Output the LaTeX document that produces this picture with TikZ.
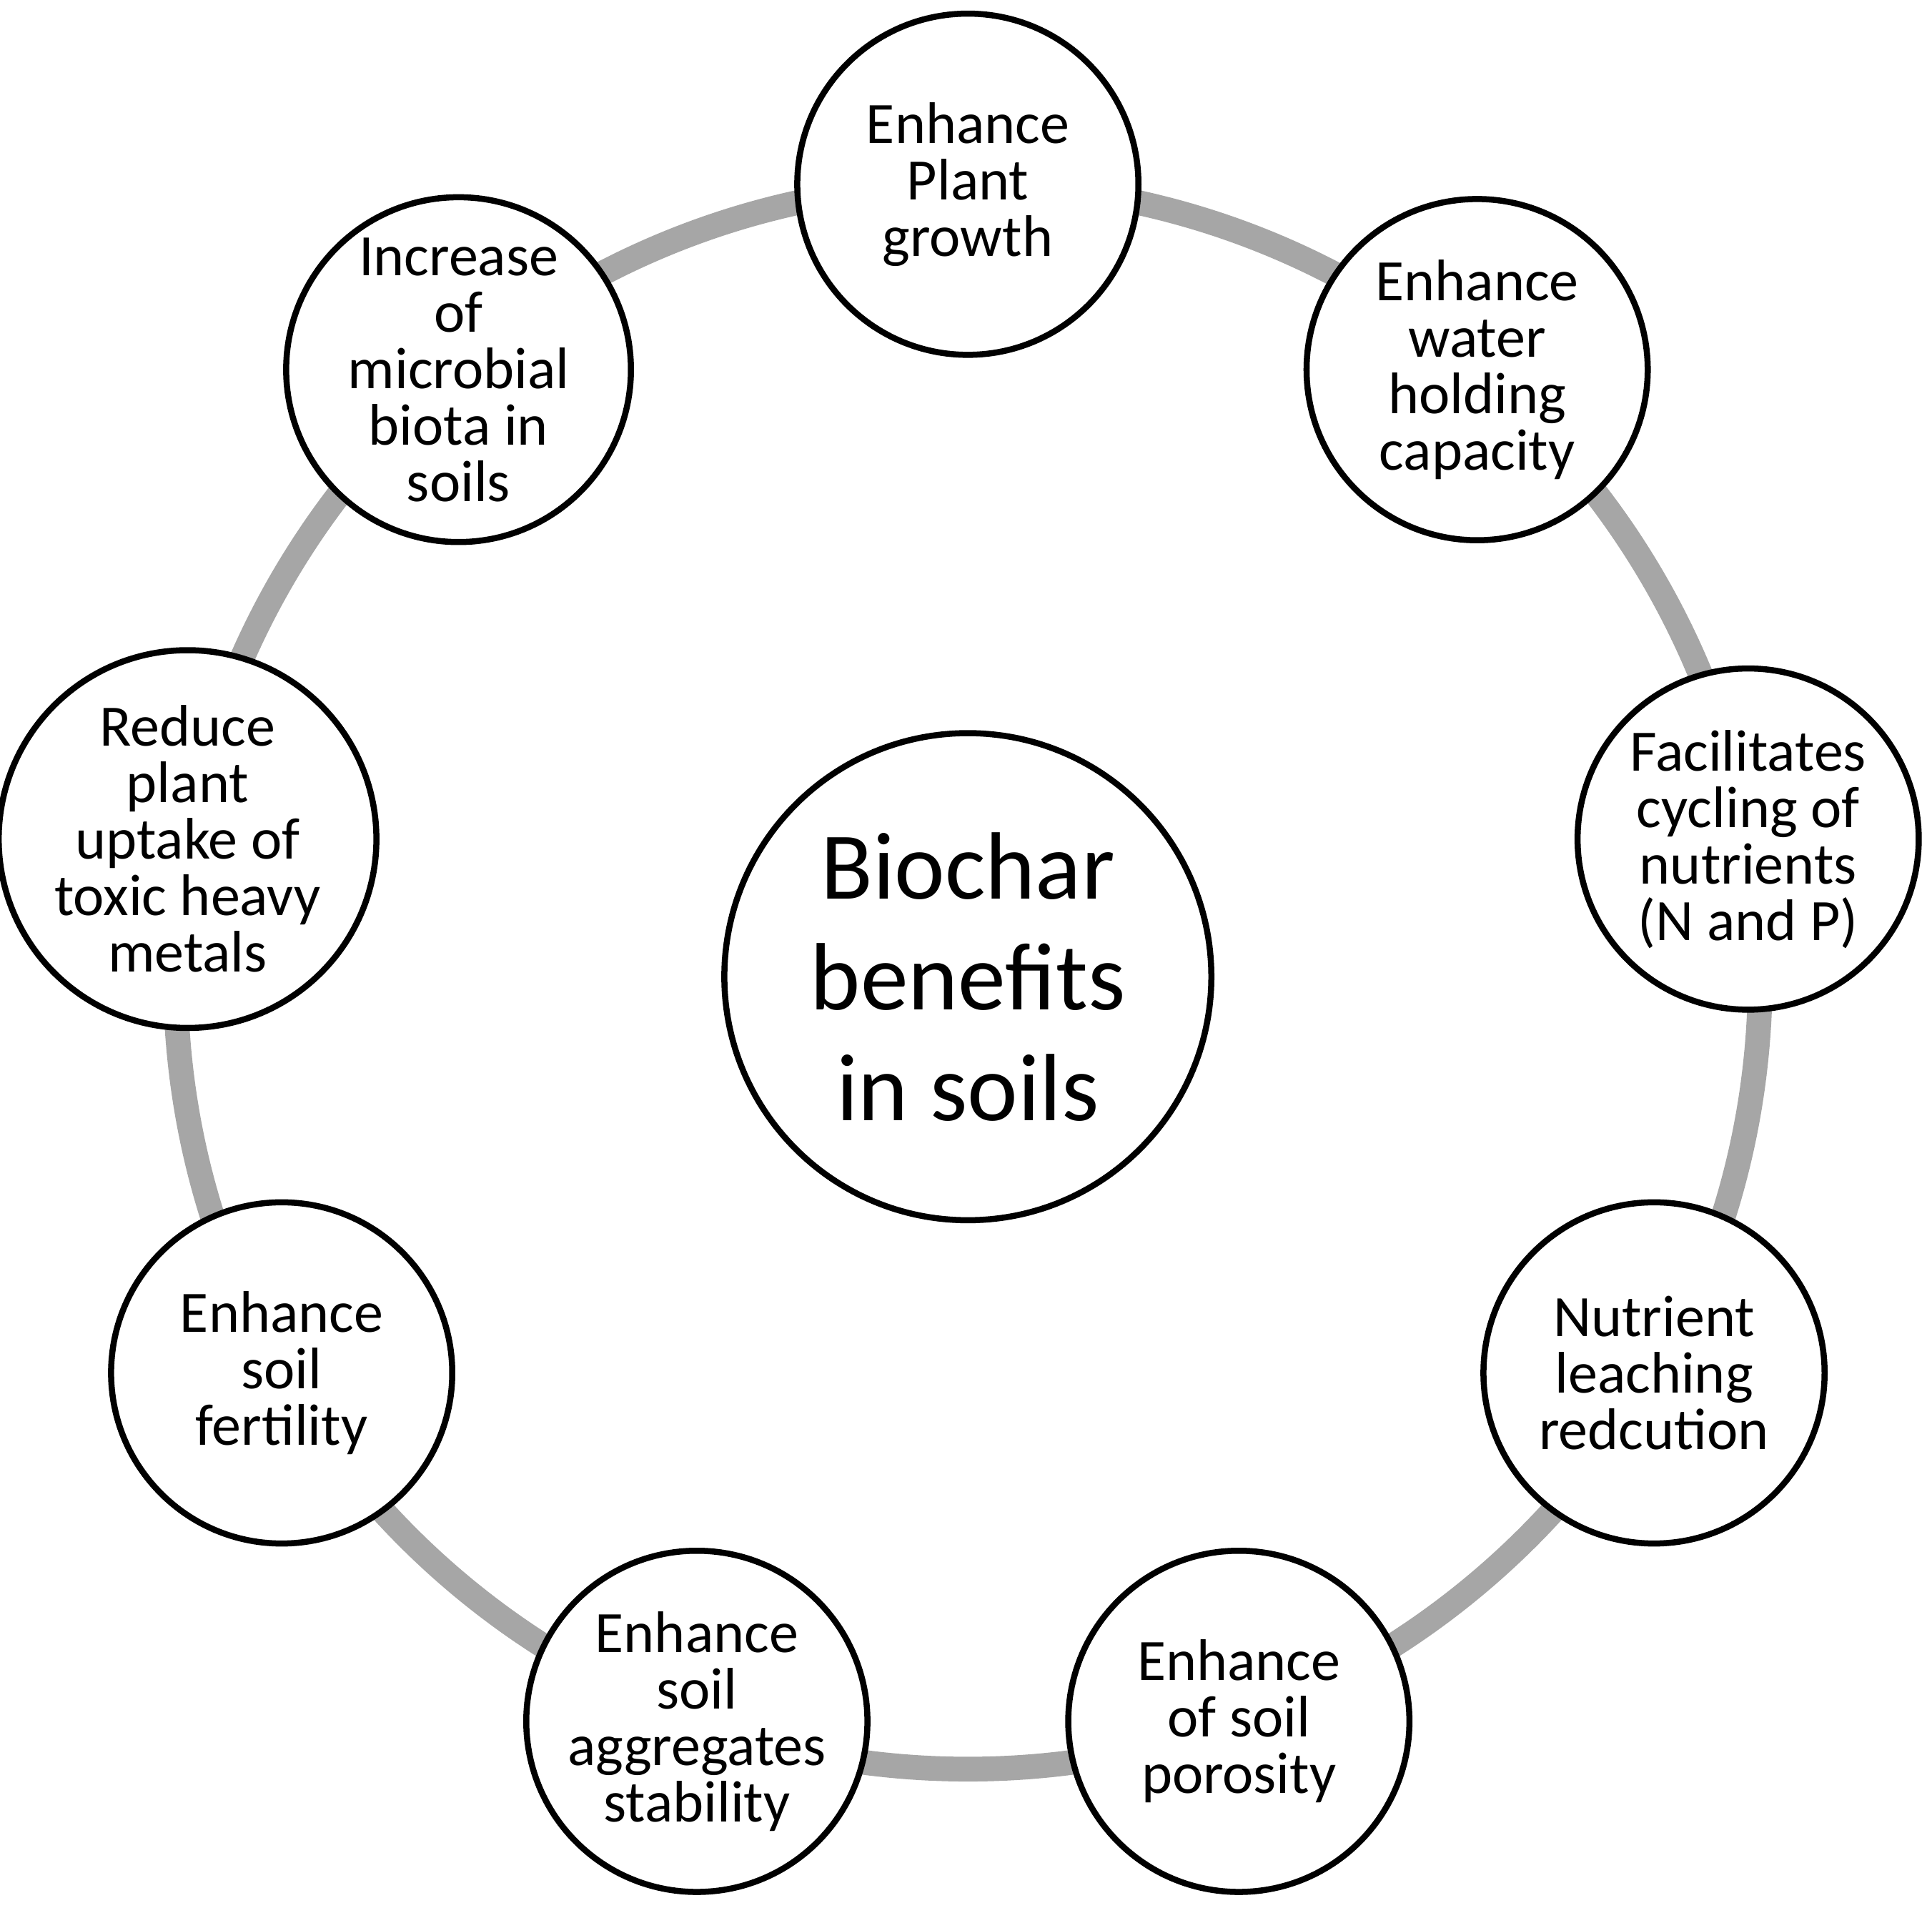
\documentclass[tikz,border=0pt]{standalone}
\usepackage{fontspec}
\setmainfont{Carlito}
\usetikzlibrary{positioning,calc}

\tikzset{
    benefit/.style={circle, draw=black, line width=1.4pt, fill=white,
        minimum size=2.76cm, inner sep=0pt, align=center,
        font=\fontsize{13.5}{13}\selectfont},
    ring/.style={draw=black!35, line width=5.7pt}
}

\begin{document}
\begin{tikzpicture}

    \useasboundingbox (0,0) rectangle (15.63,-15.43);

    % ring behind the circles
    \coordinate (c) at (7.83,-7.90);
    \draw[ring] (c) circle (6.41);

    % central circle
    \node[benefit, minimum size=3.94cm,
        font=\fontsize{22}{25.5}\selectfont] (biochar) at (c)
        {Biochar\\benefits\\in soils};

    % benefits around the ring
    \foreach \ang/\name/\txt in {
        90/plant/{Enhance\\Plant\\growth},
        50/water/{Enhance\\water\\holding\\capacity},
        10/cycling/{Facilitates\\cycling of\\nutrients\\(N and P)},
        -30/leaching/{Nutrient\\leaching\\redcution},
        -70/porosity/{Enhance\\of soil\\porosity},
        -110/aggregates/{Enhance\\soil\\aggregates\\stability},
        -150/fertility/{Enhance\\soil\\fertility},
        170/metals/{Reduce\\plant\\uptake of\\toxic heavy\\metals},
        130/microbial/{Increase\\of\\microbial\\biota in\\soils}}
    {
        \node[benefit] (\name) at ($(c)+(\ang:6.41)$) {\txt};
    }

\end{tikzpicture}
\end{document}
